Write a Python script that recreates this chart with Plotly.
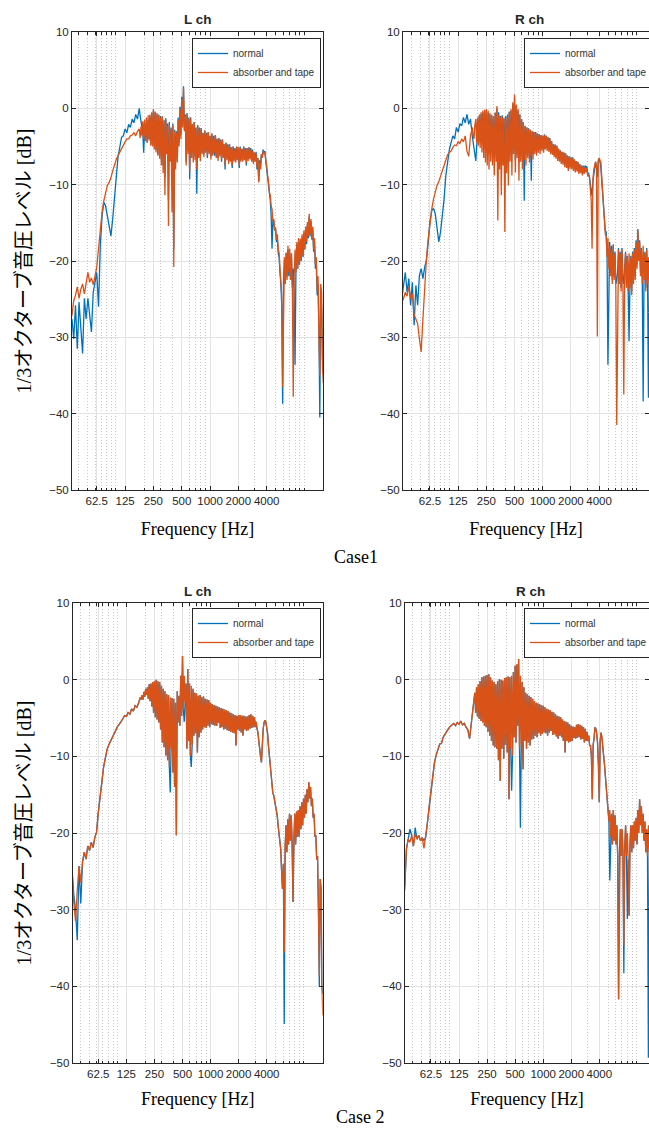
import math
import plotly.graph_objects as go

# Frequency axis shared by every spectrum (Hz); finer steps above 177 Hz where the spectra get busy
freq_hz = [
    31.25, 32.63, 34.08, 35.58, 37.16, 38.81, 40.52, 42.32, 44.19, 46.15, 48.19, 50.33, 52.56, 54.88, 57.31, 59.85,
    62.5, 65.27, 68.16, 71.17, 74.33, 77.62, 81.05, 84.64, 88.39, 92.30, 96.39, 100.66, 105.11, 109.77, 114.63, 119.70,
    125, 130.5, 136.3, 142.3, 148.7, 155.2, 162.1, 169.3,
    176.8, 180.7, 184.6, 188.6, 192.8, 197.0, 201.3, 205.7, 210.2, 214.8, 219.5, 224.3, 229.3, 234.3, 239.4, 244.6,
    250, 255.5, 261.1, 266.8, 272.6, 278.6, 284.7, 290.9, 297.3, 303.8, 310.5, 317.3, 324.2, 331.3, 338.6, 346.0,
    353.6, 361.3, 369.2, 377.3, 385.6, 394.0, 402.6, 411.4, 420.4, 429.6, 439.0, 448.6, 458.5, 468.5, 478.8, 489.3,
    500, 511.0, 522.1, 533.5, 545.3, 557.2, 569.4, 581.9, 594.6, 607.6, 620.9, 634.5, 648.4, 662.6, 677.1, 691.9,
    707.1, 722.6, 738.4, 754.6, 771.1, 788.0, 805.2, 822.8, 840.9, 859.3, 878.1, 897.3, 917.0, 937.1, 957.6, 978.6,
    1000, 1022, 1044, 1067, 1091, 1115, 1139, 1164, 1189, 1215, 1242, 1269, 1297, 1325, 1354, 1384,
    1414, 1445, 1477, 1509, 1542, 1576, 1610, 1645, 1682, 1719, 1756, 1795, 1834, 1874, 1915, 1957,
    2000, 2044, 2089, 2135, 2181, 2229, 2278, 2328, 2378, 2430, 2484, 2538, 2594, 2651, 2709, 2768,
    2828, 2890, 2954, 3019, 3084, 3152, 3221, 3292, 3364, 3438, 3513, 3590, 3668, 3748, 3830, 3914,
    4000,
    4088, 4177, 4268, 4362, 4458, 4555, 4655, 4757, 4861, 4967, 5076, 5187, 5301, 5417, 5536, 5657,
    5781, 5907, 6036, 6169, 6304, 6442, 6583, 6727, 6874, 7025, 7179, 7336, 7497, 7661, 7829, 8000,
    8175, 8354, 8537, 8724, 8915, 9110, 9310, 9514, 9722, 9935, 10153, 10375, 10602, 10834, 11071, 11314,
    11562, 11815, 12074, 12338, 12608, 12884, 13166, 13454, 13749, 14050, 14358, 14672, 14993, 15322, 15658, 16000,
]

# Case 1, left channel (dB)
case1_L_normal = [
    -27.0, -28.5, -27.6, -30.2, -25.8, -31.5, -25.4, -28.4, -32.1, -24.9, -27.6, -24.9, -27.1, -29.3, -24.1, -22.8,
    -21.5, -26.0, -18.0, -14.1, -12.3, -12.8, -14.1, -15.6, -16.7, -14.5, -11.4, -8.8, -6.4, -5.1, -3.8, -3.6,
    -2.7, -3.2, -2.1, -2.5, -1.4, -1.9, -0.8, -1.4,
    0.0, -1.0, -1.9, -2.8, -3.2, -5.8, -3.0, -4.0, -2.3, -4.5, -1.5, -4.0, -1.0, -4.7, -0.6, -4.8,
    -0.3, -5.0, -0.5, -5.5, -0.8, -6.0, -0.8, -6.2, -1.0, -6.8, -1.2, -7.5, -1.5, -9.0, -1.3, -5.5,
    -2.0, -12.0, -1.8, -6.5, -2.5, -10.0, -2.0, -18.5, -2.8, -7.0, -3.0, -6.5, -1.2, -4.5, 0.2, -3.5,
    1.5, -2.0, 2.9, -2.8, -0.8, -7.0, -0.6, -5.5, -1.2, -9.3, -1.2, -6.0, -2.1, -6.5, -1.8, -6.3,
    -2.5, -11.2, -2.2, -6.2, -2.5, -6.5, -2.6, -5.8, -3.2, -6.0, -2.9, -5.6, -3.2, -6.5, -3.1, -5.8,
    -3.6, -6.3, -3.3, -6.0, -3.6, -6.2, -3.5, -6.3, -4.0, -6.5, -3.9, -6.0, -4.1, -7.0, -4.1, -6.2,
    -4.7, -8.0, -4.5, -6.5, -4.7, -7.0, -4.7, -6.8, -5.1, -7.8, -5.0, -6.7, -5.2, -6.8, -5.0, -6.5,
    -5.1, -7.8, -5.0, -6.7, -5.3, -6.7, -5.0, -6.5, -5.2, -7.5, -5.2, -6.6, -5.1, -6.5, -5.2, -6.8,
    -5.4, -7.0, -5.8, -6.8, -5.7, -8.0, -6.5, -9.5, -6.8, -7.8, -6.0, -6.2, -5.4, -5.9, -5.6, -7.0,
    -8.0,
    -9.0, -10.0, -11.5, -12.0, -14.0, -18.4, -14.5, -14.8, -16.0, -15.8, -17.5, -17.0, -19.0, -19.5, -21.5, -23.0,
    -26.0, -38.7, -22.5, -20.0, -23.0, -19.0, -22.0, -18.5, -22.0, -19.0, -22.5, -19.5, -23.5, -21.0, -24.0, -33.6,
    -21.5, -17.8, -21.0, -17.5, -20.5, -17.3, -20.0, -16.8, -19.5, -16.3, -18.5, -15.8, -17.8, -15.2, -17.0, -14.2,
    -16.8, -14.8, -17.2, -15.8, -18.8, -17.5, -21.0, -20.5, -24.5, -23.0, -29.0, -40.5, -24.0, -26.0, -33.0, -30.0,
]
case1_L_absorber = [
    -28.0, -27.5, -27.1, -25.2, -24.5, -23.4, -24.9, -23.7, -23.0, -24.3, -22.6, -21.5, -22.8, -22.2, -23.1, -22.0,
    -20.8, -18.4, -15.8, -13.6, -12.1, -11.0, -10.1, -9.7, -9.1, -8.2, -7.4, -6.7, -6.2, -5.7, -5.3, -4.7,
    -4.4, -4.0, -4.0, -3.6, -3.5, -3.2, -3.6, -3.0,
    -2.7, -3.9, -2.4, -3.6, -1.7, -4.0, -1.5, -4.3, -1.2, -4.5, -0.9, -4.2, -0.8, -4.9, -0.5, -5.0,
    -0.1, -5.4, -0.4, -5.8, -0.6, -6.2, -0.9, -6.6, -1.2, -7.5, -1.0, -8.5, -1.7, -11.4, -1.5, -6.0,
    -2.3, -15.4, -2.0, -7.0, -2.7, -13.6, -2.2, -20.8, -3.0, -8.0, -3.2, -7.1, -1.5, -5.0, -0.1, -4.0,
    1.2, -2.5, 2.7, -3.0, -1.0, -7.5, -0.8, -6.0, -1.4, -8.4, -1.2, -6.5, -2.1, -7.1, -1.8, -6.8,
    -2.5, -8.0, -2.2, -6.5, -2.7, -6.9, -2.6, -6.0, -3.2, -6.4, -2.9, -5.8, -3.4, -6.2, -3.1, -6.0,
    -3.6, -6.7, -3.3, -6.2, -3.8, -5.8, -3.5, -6.5, -4.0, -6.9, -3.9, -6.3, -4.3, -6.7, -4.1, -6.5,
    -4.7, -7.5, -4.5, -6.8, -4.9, -7.3, -4.7, -7.0, -5.1, -7.5, -5.0, -7.0, -5.4, -7.1, -5.0, -6.8,
    -5.1, -7.5, -5.2, -7.0, -5.3, -7.0, -5.0, -6.8, -5.4, -7.2, -5.2, -6.9, -5.1, -6.7, -5.4, -7.0,
    -5.6, -7.3, -5.8, -7.0, -6.0, -7.7, -6.5, -9.7, -7.1, -8.0, -6.0, -6.5, -5.6, -6.0, -5.8, -6.8,
    -7.5,
    -8.8, -9.5, -11.0, -11.4, -12.8, -13.2, -14.8, -14.5, -16.0, -15.6, -17.2, -16.5, -18.5, -18.9, -21.0, -22.3,
    -24.5, -36.5, -22.0, -19.5, -23.0, -18.9, -22.5, -18.0, -21.5, -18.4, -22.5, -19.0, -24.0, -37.8, -22.0, -18.5,
    -21.5, -17.5, -21.0, -17.0, -20.5, -17.1, -20.0, -16.5, -19.3, -16.0, -18.5, -15.5, -17.5, -14.9, -16.8, -13.8,
    -16.5, -14.5, -17.0, -15.5, -18.5, -17.0, -20.5, -19.5, -24.0, -22.0, -30.0, -35.0, -23.0, -24.1, -34.0, -36.0,
]

# Case 1, right channel (dB)
case1_R_normal = [
    -24.9, -23.2, -21.5, -24.1, -22.3, -25.8, -22.8, -28.4, -23.2, -25.8, -21.9, -21.0, -22.3, -20.8, -19.9, -17.5,
    -14.9, -13.4, -13.1, -13.8, -15.4, -17.5, -16.2, -14.3, -11.9, -8.8, -6.7, -5.4, -4.5, -3.6, -4.0, -2.5,
    -3.1, -2.0, -2.3, -1.2, -1.9, -0.8, -2.1, -1.4,
    -3.6, -4.5, -5.6, -6.2, -6.9, -5.0, -3.2, -2.0, -1.0, -4.5, -0.7, -4.0, -0.5, -5.0, -0.4, -4.6,
    -0.3, -5.5, -0.5, -5.0, -0.8, -5.2, -0.9, -5.5, -1.2, -6.0, -0.6, -5.5, 0.0, -7.0, -0.5, -6.0,
    -1.0, -6.5, -0.9, -6.0, -1.2, -7.5, -1.0, -6.2, -0.8, -6.5, -0.4, -5.8, -0.3, -6.0, 0.6, -5.5,
    1.5, -6.8, 0.3, -6.0, -0.3, -7.0, -0.8, -6.2, -1.4, -6.5, -1.8, -12.1, -2.3, -6.0, -2.5, -5.8,
    -2.6, -6.5, -2.8, -9.5, -3.0, -6.0, -3.1, -5.6, -3.1, -5.8, -3.3, -5.4, -3.4, -5.5, -3.5, -5.3,
    -3.6, -5.5, -3.4, -5.2, -3.6, -5.3, -3.8, -5.4, -3.9, -5.7, -4.3, -5.8, -4.7, -6.1, -4.7, -6.3,
    -4.9, -6.5, -5.3, -6.7, -5.5, -7.0, -5.7, -7.1, -5.8, -7.3, -5.9, -7.5, -6.2, -7.8, -6.3, -7.6,
    -6.4, -7.6, -6.4, -7.9, -6.7, -8.0, -6.9, -8.0, -7.0, -8.3, -7.3, -8.2, -7.5, -8.5, -7.5, -8.3,
    -7.5, -7.8, -7.6, -8.5, -8.5, -9.0, -10.0, -11.0, -11.5, -9.5, -8.8, -7.5, -7.0, -7.8, -9.0, -7.0,
    -6.8,
    -7.0, -7.8, -9.5, -11.5, -13.0, -14.0, -16.0, -16.2, -19.0, -33.6, -20.5, -17.5, -21.5, -18.0, -22.5, -17.8,
    -22.0, -18.8, -23.0, -22.5, -21.5, -18.3, -22.5, -18.8, -23.5, -18.3, -22.5, -23.0, -21.0, -18.8, -23.0, -19.3,
    -23.5, -30.5, -23.0, -19.3, -24.0, -18.8, -22.5, -18.3, -22.0, -17.3, -20.5, -15.8, -19.5, -17.3, -21.5, -18.3,
    -22.5, -38.4, -22.0, -18.8, -23.5, -18.3, -22.5, -37.9, -23.0, -18.8, -22.5, -19.8, -23.5, -20.8, -24.5, -26.0,
]
case1_R_absorber = [
    -25.4, -24.9, -24.1, -24.6, -23.4, -24.9, -24.3, -27.1, -27.6, -28.2, -30.2, -31.9, -27.6, -22.8, -19.7, -17.1,
    -14.9, -13.2, -11.9, -10.8, -10.1, -9.6, -8.9, -8.3, -7.5, -6.7, -6.1, -5.8, -5.6, -5.1, -4.8, -4.9,
    -4.4, -4.6, -4.0, -4.4, -3.6, -5.6, -6.3, -3.6,
    -2.5, -3.5, -4.0, -2.2, -1.4, -4.5, -1.2, -4.9, -0.8, -5.2, -0.5, -5.8, -0.3, -6.5, -0.2, -7.1,
    -0.1, -7.5, -0.3, -8.0, -0.6, -7.0, -0.8, -7.5, -1.0, -8.8, -0.5, -7.0, 0.3, -14.7, -0.8, -8.0,
    -1.2, -11.4, -1.0, -7.5, -1.4, -16.2, -1.2, -8.5, -1.0, -10.1, -0.5, -7.0, -0.1, -8.8, 0.8, -6.0,
    1.8, -8.4, 0.5, -6.5, -0.1, -9.5, -0.8, -7.0, -1.4, -8.0, -1.8, -6.8, -2.3, -7.5, -2.5, -6.5,
    -2.7, -7.1, -2.8, -6.3, -3.0, -6.7, -3.1, -6.0, -3.2, -6.2, -3.3, -5.8, -3.4, -6.0, -3.5, -5.6,
    -3.6, -5.8, -3.5, -5.4, -3.6, -5.6, -3.8, -5.7, -4.0, -6.0, -4.3, -6.1, -4.7, -6.4, -4.8, -6.6,
    -4.9, -6.9, -5.3, -7.0, -5.6, -7.3, -5.7, -7.4, -5.8, -7.7, -6.0, -7.8, -6.2, -8.2, -6.3, -7.9,
    -6.4, -8.0, -6.5, -8.2, -6.7, -8.4, -6.9, -8.3, -7.1, -8.6, -7.3, -8.5, -7.5, -8.8, -7.6, -8.6,
    -7.7, -8.4, -7.8, -8.8, -8.8, -9.0, -10.6, -12.0, -18.4, -9.3, -8.0, -7.3, -7.0, -7.5, -29.9, -6.8,
    -6.5,
    -6.8, -7.0, -9.0, -11.0, -13.0, -14.5, -16.5, -16.7, -19.5, -17.0, -21.0, -18.0, -22.0, -18.5, -23.0, -18.0,
    -22.5, -19.0, -23.5, -41.5, -22.0, -18.5, -23.0, -19.0, -24.0, -18.5, -23.0, -37.5, -21.5, -19.0, -23.5, -19.5,
    -24.0, -19.0, -23.5, -19.5, -24.5, -19.0, -23.0, -18.5, -22.5, -17.5, -21.0, -16.0, -20.0, -17.5, -22.0, -18.5,
    -23.0, -18.0, -22.5, -19.0, -24.0, -18.5, -23.0, -19.5, -23.5, -19.0, -23.0, -20.0, -24.0, -21.0, -25.0, -26.0,
]

# Case 2, left channel (dB)
case2_L_normal = [
    -25.0, -24.7, -28.0, -30.0, -34.0, -24.3, -29.2, -23.8, -22.5, -23.4, -21.7, -22.3, -21.2, -21.9, -20.6, -19.9,
    -17.3, -15.6, -13.4, -11.4, -10.1, -9.1, -8.5, -8.0, -7.4, -7.0, -6.5, -6.1, -5.8, -5.5, -5.1, -4.7,
    -4.8, -4.3, -4.5, -3.8, -4.1, -3.4, -3.6, -3.0,
    -2.3, -2.6, -2.0, -2.6, -1.6, -2.2, -1.2, -2.0, -1.0, -2.5, -0.6, -2.8, -0.5, -3.5, -0.3, -4.3,
    -0.2, -4.9, 0.0, -5.2, -0.2, -5.6, -0.3, -6.5, -0.8, -8.2, -1.2, -8.8, -1.5, -9.9, -1.9, -10.5,
    -2.0, -11.4, -14.7, -9.0, -2.4, -12.1, -2.5, -14.0, -3.0, -20.3, -1.5, -5.6, -2.1, -6.0, 0.5, -4.7,
    3.1, -4.0, -5.5, -3.0, -0.5, -9.0, 1.4, -8.0, -0.5, -10.0, -11.4, -8.5, -1.2, -7.3, -1.7, -7.0,
    -1.8, -9.5, -2.1, -7.5, -2.0, -6.9, -2.3, -6.5, -2.2, -6.2, -2.5, -6.3, -2.6, -6.0, -2.7, -6.2,
    -3.0, -5.8, -3.2, -5.9, -3.3, -6.0, -3.4, -6.0, -3.5, -5.6, -3.6, -6.3, -3.7, -6.2, -3.8, -6.5,
    -3.9, -6.4, -4.0, -6.6, -4.1, -6.7, -4.3, -6.8, -4.4, -6.9, -4.5, -7.0, -4.6, -8.6, -4.7, -6.5,
    -4.6, -6.7, -4.6, -6.9, -4.7, -7.3, -4.7, -6.5, -4.8, -6.7, -4.8, -6.6, -4.6, -6.4, -4.5, -6.3,
    -4.7, -6.2, -4.9, -6.2, -5.5, -6.4, -6.9, -8.0, -9.5, -10.0, -10.8, -8.0, -6.4, -5.6, -5.3, -5.5,
    -6.2,
    -7.0, -8.6, -10.0, -11.2, -12.8, -14.3, -14.8, -15.1, -15.8, -16.2, -17.0, -17.7, -19.0, -19.9, -21.0, -22.1,
    -25.0, -27.3, -24.0, -44.9, -22.0, -19.0, -22.5, -18.2, -21.5, -17.5, -21.0, -17.7, -21.5, -29.0, -21.0, -17.5,
    -21.5, -17.2, -20.5, -17.0, -20.5, -16.5, -19.5, -16.0, -19.0, -15.5, -18.0, -15.0, -17.5, -14.3, -16.0, -13.4,
    -15.5, -14.0, -16.5, -15.5, -18.0, -17.5, -20.5, -20.3, -23.5, -23.0, -30.0, -40.0, -26.0, -27.3, -40.0, -41.0,
]
case2_L_absorber = [
    -25.0, -24.7, -29.0, -31.5, -27.5, -24.3, -26.4, -23.8, -22.5, -23.4, -21.7, -22.3, -21.2, -21.9, -20.6, -19.9,
    -17.3, -15.6, -13.4, -11.4, -10.1, -9.1, -8.5, -8.0, -7.4, -7.0, -6.5, -6.1, -5.8, -5.5, -5.1, -4.7,
    -4.8, -4.3, -4.5, -3.8, -4.1, -3.4, -3.6, -3.0,
    -2.3, -2.6, -2.0, -2.6, -1.6, -2.2, -1.2, -2.0, -1.0, -2.5, -0.6, -2.8, -0.5, -3.5, -0.3, -4.3,
    -0.2, -4.9, 0.0, -5.2, -0.2, -5.6, -0.3, -6.5, -0.8, -8.2, -1.2, -8.8, -1.5, -9.9, -1.9, -10.5,
    -2.0, -11.4, -2.3, -9.0, -2.4, -12.1, -2.5, -14.0, -3.0, -20.3, -1.5, -5.6, -2.1, -6.0, 0.5, -4.7,
    3.1, -4.0, 0.5, -3.0, -0.5, -9.0, 1.4, -8.0, -0.5, -10.0, -0.8, -8.5, -1.2, -7.3, -1.7, -7.0,
    -1.8, -9.5, -2.1, -7.5, -2.0, -6.9, -2.3, -6.5, -2.2, -6.2, -2.5, -6.3, -2.6, -6.0, -2.7, -6.2,
    -3.0, -5.8, -3.2, -5.9, -3.3, -6.0, -3.4, -6.0, -3.5, -5.6, -3.6, -6.3, -3.7, -6.2, -3.8, -6.5,
    -3.9, -6.4, -4.0, -6.6, -4.1, -6.7, -4.3, -6.8, -4.4, -6.9, -4.5, -7.0, -4.6, -8.6, -4.7, -6.5,
    -4.6, -6.7, -4.6, -6.9, -4.7, -7.3, -4.7, -6.5, -4.8, -6.7, -4.8, -6.6, -4.6, -6.4, -4.5, -6.3,
    -4.7, -6.2, -4.9, -6.2, -5.5, -6.4, -6.9, -8.0, -9.5, -10.0, -10.8, -8.0, -6.4, -5.6, -5.3, -5.5,
    -6.2,
    -7.0, -8.6, -10.0, -11.2, -12.8, -14.3, -14.8, -15.1, -15.8, -16.2, -17.0, -17.7, -19.0, -19.9, -21.0, -22.1,
    -25.0, -27.3, -24.0, -35.6, -22.0, -19.0, -22.5, -18.2, -21.5, -17.5, -21.0, -17.7, -21.5, -29.0, -21.0, -17.5,
    -21.5, -17.2, -20.5, -17.0, -20.5, -16.5, -19.5, -16.0, -19.0, -15.5, -18.0, -15.0, -17.5, -14.3, -16.0, -13.4,
    -15.5, -14.0, -16.5, -15.5, -18.0, -17.5, -20.5, -20.3, -23.5, -23.0, -30.0, -38.6, -26.0, -27.3, -40.0, -43.8,
]

# Case 2, right channel (dB)
case2_R_normal = [
    -26.0, -27.5, -22.1, -20.8, -19.5, -20.3, -21.7, -19.3, -20.8, -20.3, -21.0, -20.6, -21.0, -20.6, -18.6, -16.4,
    -14.3, -12.3, -10.8, -9.8, -9.1, -8.4, -8.3, -7.5, -7.1, -6.7, -6.4, -6.1, -5.9, -5.7, -6.0, -5.6,
    -5.8, -5.4, -5.9, -5.7, -6.2, -6.5, -7.7, -5.6,
    -3.8, -2.5, -1.7, -4.3, -1.0, -4.8, -0.6, -5.1, -0.2, -5.4, 0.3, -5.6, 0.4, -6.0, 0.5, -6.2,
    0.6, -6.8, 0.7, -7.3, 0.3, -8.0, -0.1, -8.6, -0.3, -8.8, -0.6, -9.0, -0.2, -10.5, 0.1, -13.2,
    0.0, -9.0, -0.1, -10.3, 0.2, -8.5, 0.3, -9.5, 0.4, -15.6, 0.3, -9.0, -14.5, -9.9, 1.0, -7.5,
    1.8, -8.2, 2.0, -6.0, 2.7, -9.0, -19.3, -8.5, -0.3, -11.7, -1.0, -8.0, -1.7, -9.0, -1.9, -8.2,
    -2.1, -8.6, -2.3, -7.8, -2.5, -7.7, -2.8, -7.3, -3.0, -7.5, -3.1, -7.0, -3.2, -7.3, -3.3, -7.1,
    -3.4, -6.9, -3.6, -7.0, -3.8, -7.3, -3.9, -6.9, -4.0, -6.7, -4.2, -7.2, -4.3, -7.1, -4.5, -7.4,
    -4.7, -7.7, -4.8, -7.3, -4.9, -7.5, -5.2, -8.0, -5.4, -9.5, -5.5, -8.0, -5.6, -8.2, -5.8, -8.1,
    -6.0, -8.0, -6.1, -7.6, -6.2, -7.7, -5.9, -7.6, -5.8, -7.5, -5.9, -7.8, -6.0, -7.7, -6.2, -8.2,
    -6.4, -8.0, -6.8, -8.0, -7.3, -8.6, -8.6, -10.0, -15.6, -8.5, -7.7, -6.2, -6.4, -7.0, -8.2, -11.0,
    -16.0,
    -8.0, -6.9, -7.5, -8.4, -10.0, -11.2, -12.5, -13.8, -15.0, -16.4, -18.5, -26.2, -20.5, -17.5, -21.5, -17.0,
    -21.0, -17.7, -21.5, -19.0, -23.0, -41.7, -22.5, -19.5, -23.0, -19.5, -22.5, -38.3, -22.0, -19.0, -23.0, -31.2,
    -23.5, -30.8, -21.5, -19.0, -22.5, -19.0, -22.0, -18.5, -21.0, -18.0, -21.5, -17.0, -20.0, -15.6, -19.0, -16.5,
    -20.0, -17.5, -21.0, -18.5, -22.5, -19.5, -23.0, -49.3, -22.5, -20.0, -23.5, -21.0, -25.0, -23.0, -27.0, -30.0,
]
case2_R_absorber = [
    -26.0, -26.9, -22.1, -20.8, -21.2, -20.3, -21.7, -20.1, -20.8, -20.3, -21.0, -20.6, -22.0, -20.6, -18.6, -16.4,
    -14.3, -12.3, -10.8, -9.8, -9.1, -8.4, -8.3, -7.5, -7.1, -6.7, -6.4, -6.1, -5.9, -5.7, -6.0, -5.6,
    -5.8, -5.4, -5.9, -5.7, -6.2, -6.5, -7.7, -5.6,
    -3.8, -2.5, -1.7, -4.3, -1.0, -4.8, -0.6, -5.1, -0.2, -5.4, 0.3, -5.6, 0.4, -6.0, 0.5, -6.2,
    0.6, -6.8, 0.7, -7.3, 0.3, -8.0, -0.1, -8.6, -0.3, -8.8, -0.6, -9.0, -0.2, -10.5, 0.1, -13.2,
    0.0, -9.0, -0.1, -10.3, 0.2, -8.5, 0.3, -9.5, 0.4, -15.6, 0.3, -9.0, 0.5, -9.9, 1.0, -7.5,
    1.8, -8.2, 2.0, -6.0, 2.7, -9.0, 0.5, -8.5, -0.3, -11.7, -1.0, -8.0, -1.7, -9.0, -1.9, -8.2,
    -2.1, -8.6, -2.3, -7.8, -2.5, -7.7, -2.8, -7.3, -3.0, -7.5, -3.1, -7.0, -3.2, -7.3, -3.3, -7.1,
    -3.4, -6.9, -3.6, -7.0, -3.8, -7.3, -3.9, -6.9, -4.0, -6.7, -4.2, -7.2, -4.3, -7.1, -4.5, -7.4,
    -4.7, -7.7, -4.8, -7.3, -4.9, -7.5, -5.2, -8.0, -5.4, -9.5, -5.5, -8.0, -5.6, -8.2, -5.8, -8.1,
    -6.0, -8.0, -6.1, -7.6, -6.2, -7.7, -5.9, -7.6, -5.8, -7.5, -5.9, -7.8, -6.0, -7.7, -6.2, -8.2,
    -6.4, -8.0, -6.8, -8.0, -7.3, -8.6, -8.6, -10.0, -15.6, -8.5, -7.7, -6.2, -6.4, -7.0, -8.2, -11.0,
    -16.0,
    -8.0, -6.9, -7.5, -8.4, -10.0, -11.2, -12.5, -13.8, -15.0, -16.4, -18.5, -17.0, -20.5, -17.5, -21.5, -17.0,
    -21.0, -17.7, -21.5, -19.0, -23.0, -41.7, -22.5, -19.5, -23.0, -19.5, -22.5, -34.7, -22.0, -19.0, -23.0, -20.0,
    -23.5, -30.8, -21.5, -19.0, -22.5, -19.0, -22.0, -18.5, -21.0, -18.0, -21.5, -17.0, -20.0, -15.6, -19.0, -16.5,
    -20.0, -17.5, -21.0, -18.5, -22.5, -19.5, -23.0, -19.0, -22.5, -20.0, -23.5, -21.0, -25.0, -23.0, -27.0, -30.0,
]

series_names = ["normal", "absorber and tape"]
panel_titles = ["L ch", "R ch", "L ch", "R ch"]
case_labels = ["Case1", "Case 2"]
x_tick_vals = [62.5, 125, 250, 500, 1000, 2000, 4000]
x_tick_text = ["62.5", "125", "250", "500", "1000", "2000", "4000"]
y_tick_vals = [-50, -40, -30, -20, -10, 0, 10]
x_label = "Frequency [Hz]"
y_label = "1/3オクターブ音圧レベル [dB]"

for series in (case1_L_normal, case1_L_absorber, case1_R_normal, case1_R_absorber,
               case2_L_normal, case2_L_absorber, case2_R_normal, case2_R_absorber):
    assert len(series) == len(freq_hz), (len(series), len(freq_hz))

# ---- page geometry (pixels) ----
W, H = 649, 1128
BLUE, ORANGE = "#0072BD", "#D95319"
INK = "#262626"
SANS = "Liberation Sans, Arial, sans-serif"
SERIF = "Liberation Serif, Times New Roman, Noto Sans CJK JP, serif"
LINE_W = 1.3

# left, right, top, bottom edge of each axes box and its frequency span
panels = [
    dict(l=72.0, r=323.0, t=32, b=490, f=(34.1, 15860), legend=(192, 38), title_x=197.5, title_y=20,
         normal=case1_L_normal, absorber=case1_L_absorber, ylab=True, xstand=16),
    dict(l=403.0, r=649.0, t=32, b=490, f=(32.2, 13640), legend=(524, 38), title_x=529.0, title_y=20,
         normal=case1_R_normal, absorber=case1_R_absorber, ylab=False, xstand=16),
    dict(l=72.7, r=322.7, t=603, b=1063, f=(33.2, 15950), legend=(192, 608), title_x=198.0, title_y=591,
         normal=case2_L_normal, absorber=case2_L_absorber, ylab=True, xstand=13),
    dict(l=405.0, r=649.0, t=603, b=1063, f=(32.9, 13660), legend=(524, 608), title_x=530.5, title_y=591,
         normal=case2_R_normal, absorber=case2_R_absorber, ylab=False, xstand=13),
]

minor_vals = [m * 10 ** e for e in (1, 2, 3, 4) for m in range(1, 10)]
minor_vals = [v for v in minor_vals if 34 <= v <= 16000 and v not in x_tick_vals]

fig = go.Figure()
layout = dict(
    template="none",
    width=W, height=H,
    margin=dict(l=0, r=0, t=0, b=0, autoexpand=False),
    paper_bgcolor="white", plot_bgcolor="white",
    font=dict(family=SANS, color=INK),
    showlegend=True,
    annotations=[],
)

legend_names = ["legend", "legend2", "legend3", "legend4"]

for i, p in enumerate(panels):
    n = "" if i == 0 else str(i + 1)
    xa, ya = "x" + n, "y" + n
    lg = legend_names[i]
    fig.add_trace(go.Scatter(x=freq_hz, y=p["normal"], name=series_names[0], mode="lines",
                             line=dict(color=BLUE, width=LINE_W), xaxis=xa, yaxis=ya, legend=lg))
    fig.add_trace(go.Scatter(x=freq_hz, y=p["absorber"], name=series_names[1], mode="lines",
                             line=dict(color=ORANGE, width=LINE_W), xaxis=xa, yaxis=ya, legend=lg))

    common = dict(showline=True, linecolor=INK, linewidth=1, mirror="allticks",
                  ticks="inside", ticklen=4, tickcolor=INK, tickwidth=1,
                  tickfont=dict(family=SANS, size=11.5, color=INK),
                  showgrid=True, gridcolor="#e3e3e3", gridwidth=1, zeroline=False,
                  automargin=False)
    layout["xaxis" + n] = dict(
        common, type="log", anchor=ya,
        domain=[p["l"] / W, min(p["r"] / W, 1.0)],
        range=[math.log10(p["f"][0]), math.log10(p["f"][1])],
        tickmode="array", tickvals=x_tick_vals, ticktext=x_tick_text,
        minor=dict(tickmode="array", tickvals=minor_vals, ticks="inside", ticklen=2.5,
                   tickcolor=INK, showgrid=True, gridcolor="#c8c8c8", griddash="1px,2px", gridwidth=1),
        title=dict(text=x_label, font=dict(family=SERIF, size=18, color="black"), standoff=p["xstand"]),
    )
    yax = dict(
        common, anchor=xa,
        domain=[1 - p["b"] / H, 1 - p["t"] / H],
        range=[-50, 10], tickmode="array", tickvals=y_tick_vals,
    )
    if p["ylab"]:
        yax["title"] = dict(text=y_label, font=dict(family=SERIF, size=20, color="black"), standoff=12)
    layout["yaxis" + n] = yax

    lx, ly = p["legend"]
    layout[lg] = dict(x=lx / W, y=1 - ly / H, xanchor="left", yanchor="top",
                      bgcolor="white", bordercolor=INK, borderwidth=1,
                      font=dict(family=SANS, size=10, color="#333333"),
                      tracegroupgap=0, itemwidth=30)

    layout["annotations"].append(dict(
        text=panel_titles[i], x=p["title_x"] / W, y=1 - p["title_y"] / H,
        xref="paper", yref="paper", xanchor="center", yanchor="middle", showarrow=False,
        font=dict(family=SANS, size=13.5, color=INK, weight="bold")))

for label, (cx, cy) in zip(case_labels, [(332, 557), (334, 1117)]):
    layout["annotations"].append(dict(
        text=label, x=cx / W, y=1 - cy / H, xref="paper", yref="paper",
        xanchor="left", yanchor="middle", showarrow=False,
        font=dict(family=SERIF, size=18, color="black")))

fig.update_layout(**layout)
fig.write_html("out.html")
